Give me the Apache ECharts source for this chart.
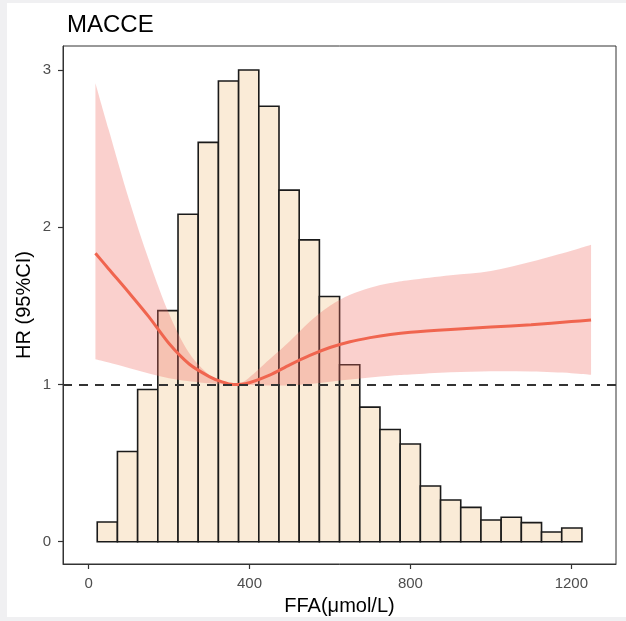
<!DOCTYPE html>
<html>
<head>
<meta charset="utf-8">
<script src="https://cdn.jsdelivr.net/npm/echarts@6/dist/echarts.min.js"></script>
<style>
  body { margin: 0; background: #f0f0f2; }
  #card { position: absolute; left: 7px; top: 3px; width: 619px; height: 614px; background: #fff; }
  #chart { position: absolute; left: 0; top: 0; width: 626px; height: 621px; }
</style>
</head>
<body>
<div id="card"></div>
<div id="chart"></div>
<script>
// 直方图 (FFA 分布)
const binEdges = [21.5, 71.7, 121.9, 172.1, 222.3, 272.5, 322.7, 372.9, 423.1, 473.3, 523.5, 573.7,
  623.9, 674.1, 724.3, 774.5, 824.7, 874.9, 925.1, 975.3, 1025.5, 1075.7, 1125.9, 1176.1, 1226.3];
const binHeights = [0.125, 0.574, 0.968, 1.47, 2.083, 2.54, 2.93, 3.0, 2.77, 2.236, 1.92, 1.56,
  1.125, 0.856, 0.714, 0.621, 0.354, 0.265, 0.218, 0.138, 0.155, 0.121, 0.062, 0.087];

// RCS 曲线
const ffa = [17, 50, 100, 150, 200, 250, 300, 330, 360, 390, 450, 500, 550, 600, 650, 700, 750, 800, 900, 1000, 1100, 1200, 1249];
const hr = [1.835, 1.735, 1.585, 1.43, 1.26, 1.13, 1.05, 1.018, 1.0, 1.005, 1.06, 1.125, 1.185, 1.235, 1.272, 1.298, 1.318, 1.332, 1.35, 1.365, 1.38, 1.40, 1.41];
const upper = [2.916, 2.62, 2.18, 1.79, 1.45, 1.20, 1.06, 1.025, 1.0, 1.025, 1.16, 1.275, 1.40, 1.50, 1.57, 1.615, 1.645, 1.665, 1.695, 1.722, 1.78, 1.85, 1.888];
const lower = [1.161, 1.14, 1.105, 1.07, 1.04, 1.02, 1.007, 1.002, 1.0, 0.997, 0.993, 0.995, 1.003, 1.018, 1.032, 1.045, 1.056, 1.063, 1.077, 1.084, 1.082, 1.072, 1.062];

const xTicks = [0, 400, 800, 1200];
const yTicks = [0, 1, 2, 3];

const font = 'Liberation Sans, Arial, sans-serif';

const histData = binHeights.map((h, i) => [binEdges[i], binEdges[i + 1], h]);
const hrData = ffa.map((x, i) => [x, hr[i]]);

// 把像素点连成平滑曲线 (Catmull-Rom -> bezier)
function splinePath (pts, start) {
  let d = (start ? 'M' : 'L') + pts[0][0] + ' ' + pts[0][1];
  for (let i = 0; i < pts.length - 1; i++) {
    const p0 = pts[Math.max(i - 1, 0)];
    const p1 = pts[i];
    const p2 = pts[i + 1];
    const p3 = pts[Math.min(i + 2, pts.length - 1)];
    const c1x = p1[0] + (p2[0] - p0[0]) / 6;
    const c1y = p1[1] + (p2[1] - p0[1]) / 6;
    const c2x = p2[0] - (p3[0] - p1[0]) / 6;
    const c2y = p2[1] - (p3[1] - p1[1]) / 6;
    d += ' C' + c1x + ' ' + c1y + ' ' + c2x + ' ' + c2y + ' ' + p2[0] + ' ' + p2[1];
  }
  return d;
}

const option = {
  animation: false,
  title: {
    text: 'MACCE',
    left: 62,
    top: 8,
    textStyle: { fontFamily: font, fontSize: 24, fontWeight: 'normal', color: '#000' }
  },
  grid: {
    left: 63, top: 46, width: 553, height: 518,
    outerBoundsMode: 'none',
    containLabel: false,
    show: true, borderColor: '#333', borderWidth: 1, backgroundColor: '#fff'
  },
  xAxis: {
    type: 'value',
    min: -63.6, max: 1311,
    name: 'FFA(μmol/L)',
    nameLocation: 'middle',
    nameGap: 32,
    nameMoveOverlap: false,
    nameTextStyle: { fontFamily: font, fontSize: 20, color: '#000' },
    axisLine: { show: true, onZero: false, lineStyle: { color: '#333', width: 1 } },
    axisTick: { show: true, customValues: xTicks, length: 5, lineStyle: { color: '#333', width: 1.2 } },
    axisLabel: { customValues: xTicks, margin: 12, formatter: v => String(v), fontFamily: font, fontSize: 15, color: '#4d4d4d' },
    splitLine: { show: false }
  },
  yAxis: {
    type: 'value',
    min: -0.142, max: 3.153,
    name: 'HR (95%CI)',
    nameLocation: 'middle',
    nameGap: 29,
    nameMoveOverlap: false,
    nameTextStyle: { fontFamily: font, fontSize: 20, color: '#000' },
    axisLine: { show: true, onZero: false, lineStyle: { color: '#333', width: 1 } },
    axisTick: { show: true, customValues: yTicks, length: 5, lineStyle: { color: '#333', width: 1.2 } },
    axisLabel: { customValues: yTicks, margin: 12, fontFamily: font, fontSize: 15, color: '#4d4d4d' },
    splitLine: { show: false }
  },
  series: [
    {
      name: 'hist',
      type: 'custom',
      data: histData,
      z: 1,
      renderItem: (params, api) => {
        const p0 = api.coord([api.value(0), 0]);
        const p1 = api.coord([api.value(1), api.value(2)]);
        return {
          type: 'rect',
          shape: { x: p0[0], y: p1[1], width: p1[0] - p0[0], height: p0[1] - p1[1] },
          style: { fill: '#FAEBD7', stroke: '#1a1a1a', lineWidth: 1.6 }
        };
      }
    },
    {
      // 95%CI 区间
      name: 'band',
      type: 'custom',
      data: [0],
      z: 3,
      renderItem: (params, api) => {
        const top = ffa.map((x, i) => api.coord([x, upper[i]]));
        const bottom = ffa.map((x, i) => api.coord([x, lower[i]])).reverse();
        const d = splinePath(top, true) + ' ' + splinePath(bottom, false) + ' Z';
        return {
          type: 'path',
          shape: { pathData: d },
          style: { fill: 'rgba(240,110,100,0.32)' }
        };
      }
    },
    {
      name: 'HR',
      type: 'line',
      data: hrData,
      smooth: 0.3,
      symbol: 'none',
      z: 4,
      lineStyle: { color: '#F0654F', width: 3 },
      markLine: {
        silent: true,
        symbol: 'none',
        label: { show: false },
        lineStyle: { color: '#333', type: [9, 7], width: 2 },
        data: [{ yAxis: 1 }]
      }
    }
  ]
};

const chart = echarts.init(document.getElementById('chart'));
chart.setOption(option);
</script>
</body>
</html>
